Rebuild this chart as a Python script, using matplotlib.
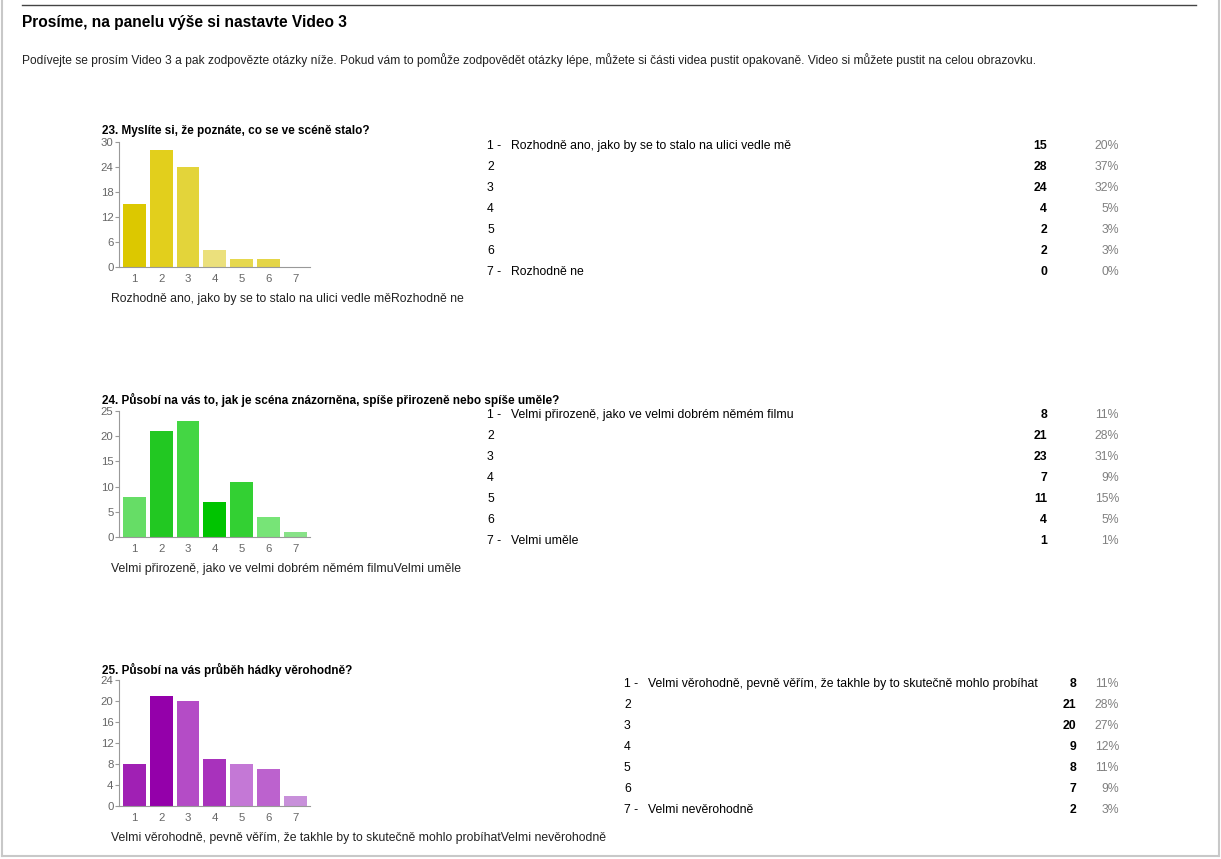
import matplotlib.pyplot as plt

plt.rcParams['font.family'] = ['Liberation Sans', 'DejaVu Sans']

W, H = 1221, 859

# Data
page_title = "Prosíme, na panelu výše si nastavte Video 3"
page_intro = ("Podívejte se prosím Video 3 a pak zodpovězte otázky níže. Pokud vám to pomůže "
              "zodpovědět otázky lépe, můžete si části videa pustit opakovaně. Video si můžete "
              "pustit na celou obrazovku.")

categories = [1, 2, 3, 4, 5, 6, 7]

q23_title = "23. Myslíte si, že poznáte, co se ve scéně stalo?"
q23_low = "Rozhodně ano, jako by se to stalo na ulici vedle mě"
q23_high = "Rozhodně ne"
q23_counts = [15, 28, 24, 4, 2, 2, 0]
q23_pct = ["20%", "37%", "32%", "5%", "3%", "3%", "0%"]
q23_colors = ["#dcc800", "#e2cf1c", "#e3d43a", "#ebe07c", "#e6d84e", "#e4d548", "#e8dc60"]

q24_title = "24. Působí na vás to, jak je scéna znázorněna, spíše přirozeně nebo spíše uměle?"
q24_low = "Velmi přirozeně, jako ve velmi dobrém němém filmu"
q24_high = "Velmi uměle"
q24_counts = [8, 21, 23, 7, 11, 4, 1]
q24_pct = ["11%", "28%", "31%", "9%", "15%", "5%", "1%"]
q24_colors = ["#66dd66", "#22c822", "#44d644", "#00c400", "#33d033", "#77e477", "#88e288"]

q25_title = "25. Působí na vás průběh hádky věrohodně?"
q25_low = "Velmi věrohodně, pevně věřím, že takhle by to skutečně mohlo probíhat"
q25_high = "Velmi nevěrohodně"
q25_counts = [8, 21, 20, 9, 8, 7, 2]
q25_pct = ["11%", "28%", "27%", "12%", "11%", "9%", "3%"]
q25_colors = ["#a020b4", "#9400aa", "#b44cc6", "#a832bc", "#c478d6", "#bc62ce", "#c890da"]

questions = [
    dict(title=q23_title, low=q23_low, high=q23_high, counts=q23_counts, pct=q23_pct,
         colors=q23_colors, ymax=30, ystep=6, top=142, bottom=267, title_y=134,
         lx=487, cx=1047),
    dict(title=q24_title, low=q24_low, high=q24_high, counts=q24_counts, pct=q24_pct,
         colors=q24_colors, ymax=25, ystep=5, top=411, bottom=537, title_y=404,
         lx=487, cx=1047),
    dict(title=q25_title, low=q25_low, high=q25_high, counts=q25_counts, pct=q25_pct,
         colors=q25_colors, ymax=24, ystep=4, top=680, bottom=806, title_y=674,
         lx=624, cx=1076),
]

TXT = 8.8


def fx(x):
    return x / W


def fy(y):
    return 1 - y / H


fig = plt.figure(figsize=(W / 100, H / 100), dpi=100)
fig.patch.set_facecolor('white')

# page frame
fig.add_artist(plt.Line2D([fx(1.5), fx(1.5)], [fy(0), fy(856)], color='#c8c8c8', lw=1.5))
fig.add_artist(plt.Line2D([fx(1218.5), fx(1218.5)], [fy(0), fy(856)], color='#c8c8c8', lw=1.5))
fig.add_artist(plt.Line2D([fx(1.5), fx(1218.5)], [fy(856), fy(856)], color='#c8c8c8', lw=1.5))
fig.add_artist(plt.Line2D([fx(22), fx(1196)], [fy(4.5), fy(4.5)], color='#444444', lw=1))

fig.text(fx(22), fy(27), page_title, fontsize=11.2, fontweight='bold', va='baseline', ha='left')
fig.text(fx(22), fy(64), page_intro, fontsize=8.65, va='baseline', ha='left', color='#222222')

left, right = 119, 310
for q in questions:
    ax = fig.add_axes([fx(left), fy(q['bottom']), (right - left) / W, (q['bottom'] - q['top']) / H])
    ax.bar(categories, q['counts'], width=0.85, color=q['colors'])
    ax.set_xlim(0.43, 7.55)
    ax.set_ylim(0, q['ymax'])
    ax.set_yticks(range(0, q['ymax'] + 1, q['ystep']))
    ax.set_xticks(categories)
    for s in ['top', 'right']:
        ax.spines[s].set_visible(False)
    for s in ['left', 'bottom']:
        ax.spines[s].set_color('#999999')
        ax.spines[s].set_linewidth(0.8)
    ax.tick_params(axis='y', length=3, width=0.8, color='#999999', labelsize=8.2,
                   labelcolor='#666666', pad=1)
    ax.tick_params(axis='x', length=0, labelsize=8.2, labelcolor='#666666', pad=5)

    fig.text(fx(102), fy(q['title_y']), q['title'], fontsize=8.5, fontweight='bold',
             va='baseline', ha='left')
    fig.text(fx(111), fy(q['bottom'] + 35), q['low'] + q['high'], fontsize=TXT,
             va='baseline', ha='left', color='#222222')

    # table of answers
    row0 = q['top'] + 7
    for i, c in enumerate(categories):
        y = row0 + i * 21
        if i == 0:
            fig.text(fx(q['lx']), fy(y), f"{c} -", fontsize=TXT, va='baseline', ha='left')
            fig.text(fx(q['lx'] + 24), fy(y), q['low'], fontsize=TXT, va='baseline', ha='left')
        elif i == len(categories) - 1:
            fig.text(fx(q['lx']), fy(y), f"{c} -", fontsize=TXT, va='baseline', ha='left')
            fig.text(fx(q['lx'] + 24), fy(y), q['high'], fontsize=TXT, va='baseline', ha='left')
        else:
            fig.text(fx(q['lx']), fy(y), f"{c}", fontsize=TXT, va='baseline', ha='left')
        fig.text(fx(q['cx']), fy(y), str(q['counts'][i]), fontsize=TXT, fontweight='bold',
                 va='baseline', ha='right')
        fig.text(fx(1119), fy(y), q['pct'][i], fontsize=TXT, va='baseline', ha='right',
                 color='#808080')

fig.savefig('out.png', dpi=100, facecolor='white')
